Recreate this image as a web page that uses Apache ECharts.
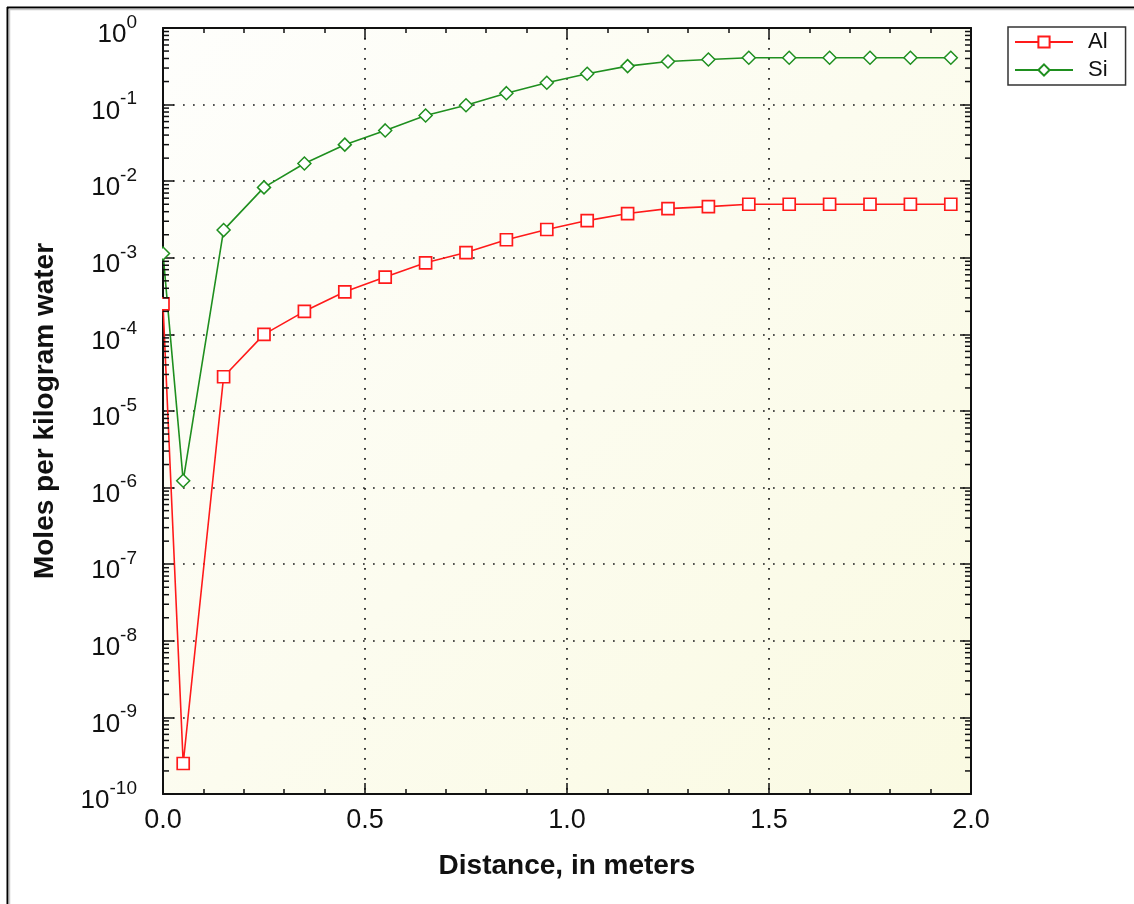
<!DOCTYPE html>
<html>
<head>
<meta charset="utf-8">
<script src="https://cdn.jsdelivr.net/npm/echarts@6/dist/echarts.min.js"></script>
<style>
  html, body { margin: 0; padding: 0; background: #ffffff; }
  #chart { width: 1134px; height: 904px; }
</style>
</head>
<body>
<div id="chart"></div>
<script>
// Distance along the flow path (m) and dissolved concentrations (mol/kg water)
const distance = [0, 0.05, 0.15, 0.25, 0.35, 0.45, 0.55, 0.65, 0.75, 0.85, 0.95,
                  1.05, 1.15, 1.25, 1.35, 1.45, 1.55, 1.65, 1.75, 1.85, 1.95];
const alValues = [2.5e-4, 2.5e-10, 2.8e-5, 1.0e-4, 2.0e-4, 3.6e-4, 5.6e-4, 8.6e-4, 1.17e-3, 1.72e-3, 2.34e-3,
                  3.06e-3, 3.78e-3, 4.39e-3, 4.66e-3, 5.0e-3, 5.0e-3, 5.0e-3, 5.0e-3, 5.0e-3, 5.0e-3];
const siValues = [1.14e-3, 1.23e-6, 2.3e-3, 8.3e-3, 1.7e-2, 3.0e-2, 4.6e-2, 7.2e-2, 9.8e-2, 0.141, 0.193,
                  0.253, 0.318, 0.366, 0.388, 0.409, 0.409, 0.409, 0.409, 0.409, 0.409];
const seriesNames = ['Al', 'Si'];
const xTicks = { min: 0, max: 2, step: 0.5 };
const yDecades = { minExp: -10, maxExp: 0 };

const FONT = 'Liberation Sans, Arial, sans-serif';
const INK = '#111111';

// Log-style minor tick values (2..9 x 10^n) for the y axes
const minorY = [];
for (let e = yDecades.minExp; e < yDecades.maxExp; e++) {
  for (let k = 2; k <= 9; k++) minorY.push([0, k * Math.pow(10, e)]);
}

const chart = echarts.init(document.getElementById('chart'), null, { renderer: 'canvas' });

const gridDots = { show: true, lineStyle: { color: '#1a1a1a', width: 1.7, type: [1.7, 8.3] } };

const option = {
  animation: false,
  backgroundColor: '#ffffff',
  grid: {
    left: 163, right: 163, top: 28, bottom: 110,
    show: true,
    borderWidth: 0,
    backgroundColor: new echarts.graphic.LinearGradient(0, 0, 1, 1, [
      { offset: 0, color: '#fefefc' },
      { offset: 1, color: '#fafae2' }
    ])
  },
  legend: {
    orient: 'vertical',
    left: 1008, top: 27,
    backgroundColor: '#ffffff',
    borderColor: '#333',
    borderWidth: 1.5,
    borderRadius: 0,
    padding: [4, 18, 4, 6],
    itemWidth: 58,
    itemHeight: 14,
    itemGap: 6,
    textStyle: { fontFamily: FONT, fontSize: 22, color: INK, padding: [0, 0, 0, 10] },
    data: seriesNames
  },
  xAxis: [{
    type: 'value',
    min: xTicks.min, max: xTicks.max, interval: xTicks.step,
    position: 'bottom',
    name: 'Distance, in meters',
    nameLocation: 'middle',
    nameGap: 58,
    nameTextStyle: { fontFamily: FONT, fontSize: 28, fontWeight: 'bold', color: INK },
    axisLine: { show: true, onZero: false, lineStyle: { color: INK, width: 2 } },
    axisTick: { show: true, inside: true, length: 11, lineStyle: { color: INK, width: 1.5 } },
    minorTick: { show: true, splitNumber: 5, length: 5, lineStyle: { color: INK, width: 1.5 } },
    axisLabel: {
      margin: 13, fontFamily: FONT, fontSize: 27, color: INK,
      formatter: v => v.toFixed(1)
    },
    splitLine: gridDots
  }, {
    type: 'value',
    min: xTicks.min, max: xTicks.max, interval: xTicks.step,
    position: 'top',
    axisLine: { show: true, onZero: false, lineStyle: { color: INK, width: 2 } },
    axisTick: { show: true, inside: true, length: 11, lineStyle: { color: INK, width: 1.5 } },
    minorTick: { show: true, splitNumber: 5, length: 5, lineStyle: { color: INK, width: 1.5 } },
    axisLabel: { show: false },
    splitLine: { show: false }
  }],
  yAxis: [{
    type: 'log',
    logBase: 10,
    min: Math.pow(10, yDecades.minExp), max: Math.pow(10, yDecades.maxExp),
    interval: 1,
    position: 'left',
    name: 'Moles per kilogram water',
    nameLocation: 'middle',
    nameGap: 104,
    nameTextStyle: { fontFamily: FONT, fontSize: 28, fontWeight: 'bold', color: INK },
    axisLine: { show: true, onZero: false, lineStyle: { color: INK, width: 2 } },
    axisTick: { show: true, inside: true, length: 11, lineStyle: { color: INK, width: 1.5 } },
    axisLabel: {
      margin: 26,
      padding: [14, 0, 0, 0],
      formatter: v => '{b|10}{s|' + Math.round(Math.log10(v)) + '}',
      rich: {
        b: { fontFamily: FONT, fontSize: 26, color: INK, lineHeight: 26, verticalAlign: 'bottom' },
        s: { fontFamily: FONT, fontSize: 19, color: INK, lineHeight: 19, verticalAlign: 'bottom', padding: [0, 0, 16, 0] }
      }
    },
    splitLine: gridDots
  }, {
    type: 'log',
    logBase: 10,
    min: Math.pow(10, yDecades.minExp), max: Math.pow(10, yDecades.maxExp),
    interval: 1,
    position: 'right',
    axisLine: { show: true, onZero: false, lineStyle: { color: INK, width: 2 } },
    axisTick: { show: true, inside: true, length: 11, lineStyle: { color: INK, width: 1.5 } },
    axisLabel: { show: false },
    splitLine: { show: false }
  }],
  series: [{
    name: 'Al',
    type: 'line',
    data: distance.map((d, i) => [d, alValues[i]]),
    symbol: 'rect',
    symbolSize: 12,
    color: '#ff1a1a',
    lineStyle: { color: '#ff1a1a', width: 1.6 },
    itemStyle: { color: '#ffffff', borderColor: '#ff1a1a', borderWidth: 1.7 },
    z: 3
  }, {
    name: 'Si',
    type: 'line',
    data: distance.map((d, i) => [d, siValues[i]]),
    symbol: 'diamond',
    symbolSize: 13,
    color: '#1f8f1f',
    lineStyle: { color: '#1f8f1f', width: 1.6 },
    itemStyle: { color: '#ffffff', borderColor: '#1f8f1f', borderWidth: 1.5 },
    z: 3
  }, {
    // white band left of the plot so markers sitting on x = 0 are cut at the axis
    name: 'edge-mask',
    type: 'custom',
    silent: true,
    clip: false,
    z: 4,
    data: [[xTicks.min, Math.pow(10, yDecades.maxExp)]],
    renderItem: (params, api) => {
      const top = api.coord([xTicks.min, Math.pow(10, yDecades.maxExp)]);
      const bot = api.coord([xTicks.min, Math.pow(10, yDecades.minExp)]);
      return {
        type: 'rect',
        shape: { x: top[0] - 20, y: top[1] + 1, width: 19, height: bot[1] - top[1] - 2 },
        style: { fill: '#ffffff' }
      };
    }
  }, {
    // minor log ticks on the left and right axes
    name: 'minor-ticks',
    type: 'custom',
    silent: true,
    clip: false,
    z: 5,
    data: minorY,
    renderItem: (params, api) => {
      const v = api.value(1);
      const l = api.coord([xTicks.min, v]);
      const r = api.coord([xTicks.max, v]);
      const st = { stroke: INK, lineWidth: 1.5 };
      return {
        type: 'group',
        children: [
          { type: 'line', shape: { x1: l[0], y1: l[1], x2: l[0] + 6, y2: l[1] }, style: st },
          { type: 'line', shape: { x1: r[0], y1: r[1], x2: r[0] - 6, y2: r[1] }, style: st }
        ]
      };
    }
  }],
  graphic: [
    // window frame
    { type: 'line', z: 100, silent: true, shape: { x1: 7.5, y1: 7, x2: 7.5, y2: 904 }, style: { stroke: '#000', lineWidth: 2 } },
    { type: 'line', z: 100, silent: true, shape: { x1: 7, y1: 7.5, x2: 1134, y2: 7.5 }, style: { stroke: '#000', lineWidth: 2 } },
    { type: 'line', z: 100, silent: true, shape: { x1: 9.5, y1: 9, x2: 9.5, y2: 904 }, style: { stroke: '#c8c8c8', lineWidth: 1.5 } },
    { type: 'line', z: 100, silent: true, shape: { x1: 9, y1: 9.5, x2: 1134, y2: 9.5 }, style: { stroke: '#c8c8c8', lineWidth: 1.5 } }
  ]
};

chart.setOption(option);
</script>
</body>
</html>
